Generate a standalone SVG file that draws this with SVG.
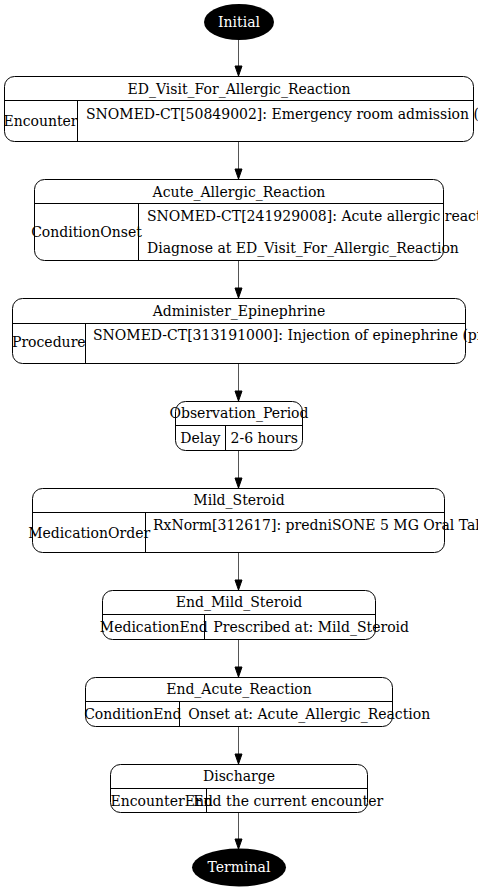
<svg xmlns="http://www.w3.org/2000/svg" width="478" height="890" viewBox="0 0 478 890">
<style>
text{font-family:"DejaVu Serif","Liberation Serif",serif;font-size:14px;fill:#000}
.c{text-anchor:middle}
.w{fill:#fff}
.box{fill:#fff;stroke:#000;stroke-width:1}
.ln{stroke:#000;stroke-width:1;fill:none}
.edge{stroke:#555;stroke-width:1;fill:none}
.ah{fill:#000;stroke:#000;stroke-width:1}
</style>
<rect width="478" height="890" fill="#fff"/>
<g id="connectors">
<line class="edge" x1="238.5" y1="40" x2="238.5" y2="66"/><polygon class="ah" points="235,66 242,66 238.5,76"/>
<line class="edge" x1="238.5" y1="142" x2="238.5" y2="169"/><polygon class="ah" points="235,169 242,169 238.5,179"/>
<line class="edge" x1="238.5" y1="261" x2="238.5" y2="288"/><polygon class="ah" points="235,288 242,288 238.5,298"/>
<line class="edge" x1="238.5" y1="364" x2="238.5" y2="391"/><polygon class="ah" points="235,391 242,391 238.5,401"/>
<line class="edge" x1="238.5" y1="451" x2="238.5" y2="478"/><polygon class="ah" points="235,478 242,478 238.5,488"/>
<line class="edge" x1="238.5" y1="553" x2="238.5" y2="580"/><polygon class="ah" points="235,580 242,580 238.5,590"/>
<line class="edge" x1="238.5" y1="640" x2="238.5" y2="667"/><polygon class="ah" points="235,667 242,667 238.5,677"/>
<line class="edge" x1="238.5" y1="727" x2="238.5" y2="754"/><polygon class="ah" points="235,754 242,754 238.5,764"/>
<line class="edge" x1="238.5" y1="813" x2="238.5" y2="839"/><polygon class="ah" points="235,839 242,839 238.5,849"/>
</g>
<g id="Initial">
<ellipse cx="239" cy="22" rx="35" ry="18" fill="#000"/>
<text class="c w" x="239" y="26.7">Initial</text>
</g>
<g id="ED_Visit_For_Allergic_Reaction">
<rect class="box" x="4.5" y="76.5" width="469" height="65" rx="10"/>
<line class="ln" x1="4.5" y1="100.5" x2="473.5" y2="100.5"/>
<line class="ln" x1="77.5" y1="100.5" x2="77.5" y2="141.5"/>
<text class="c" x="239" y="94">ED_Visit_For_Allergic_Reaction</text>
<text class="c" x="40.5" y="126">Encounter</text>
<text x="86" y="119">SNOMED-CT[50849002]: Emergency room admission (procedure)</text>
</g>
<g id="Acute_Allergic_Reaction">
<rect class="box" x="34.5" y="179.5" width="409" height="81" rx="10"/>
<line class="ln" x1="34.5" y1="203.5" x2="443.5" y2="203.5"/>
<line class="ln" x1="138.5" y1="203.5" x2="138.5" y2="260.5"/>
<text class="c" x="239" y="196.7">Acute_Allergic_Reaction</text>
<text class="c" x="86.5" y="236.7">ConditionOnset</text>
<text x="147" y="220.7">SNOMED-CT[241929008]: Acute allergic reaction (disorder)</text>
<text x="147" y="253.3">Diagnose at ED_Visit_For_Allergic_Reaction</text>
</g>
<g id="Administer_Epinephrine">
<rect class="box" x="12.5" y="298.5" width="453" height="65" rx="10"/>
<line class="ln" x1="12.5" y1="323.5" x2="465.5" y2="323.5"/>
<line class="ln" x1="85.5" y1="323.5" x2="85.5" y2="363.5"/>
<text class="c" x="239" y="315.7">Administer_Epinephrine</text>
<text class="c" x="48.8" y="347.3">Procedure</text>
<text x="93" y="340">SNOMED-CT[313191000]: Injection of epinephrine (procedure)</text>
</g>
<g id="Observation_Period">
<rect class="box" x="175.5" y="401.5" width="127" height="49" rx="10"/>
<line class="ln" x1="175.5" y1="425.5" x2="302.5" y2="425.5"/>
<line class="ln" x1="225.5" y1="425.5" x2="225.5" y2="450.5"/>
<text class="c" x="239" y="418.3">Observation_Period</text>
<text class="c" x="200.3" y="443">Delay</text>
<text class="c" x="264.2" y="443">2-6 hours</text>
</g>
<g id="Mild_Steroid">
<rect class="box" x="32.5" y="488.5" width="412" height="64" rx="10"/>
<line class="ln" x1="32.5" y1="512.5" x2="444.5" y2="512.5"/>
<line class="ln" x1="145.5" y1="512.5" x2="145.5" y2="552.5"/>
<text class="c" x="239" y="505">Mild_Steroid</text>
<text class="c" x="89.2" y="538">MedicationOrder</text>
<text x="153" y="530">RxNorm[312617]: predniSONE 5 MG Oral Tablet</text>
</g>
<g id="End_Mild_Steroid">
<rect class="box" x="102.5" y="590.5" width="273" height="49" rx="10"/>
<line class="ln" x1="102.5" y1="614.5" x2="375.5" y2="614.5"/>
<line class="ln" x1="204.5" y1="614.5" x2="204.5" y2="639.5"/>
<text class="c" x="239" y="607.3">End_Mild_Steroid</text>
<text class="c" x="153.8" y="632.3">MedicationEnd</text>
<text x="213.3" y="632.3">Prescribed at: Mild_Steroid</text>
</g>
<g id="End_Acute_Reaction">
<rect class="box" x="85.5" y="677.5" width="307" height="49" rx="10"/>
<line class="ln" x1="85.5" y1="701.5" x2="392.5" y2="701.5"/>
<line class="ln" x1="179.5" y1="701.5" x2="179.5" y2="726.5"/>
<text class="c" x="239" y="694">End_Acute_Reaction</text>
<text class="c" x="132.8" y="719">ConditionEnd</text>
<text x="188.3" y="719">Onset at: Acute_Allergic_Reaction</text>
</g>
<g id="Discharge">
<rect class="box" x="110.5" y="764.5" width="257" height="48" rx="10"/>
<line class="ln" x1="110.5" y1="788.5" x2="367.5" y2="788.5"/>
<line class="ln" x1="206.5" y1="788.5" x2="206.5" y2="812.5"/>
<text class="c" x="239" y="780.7">Discharge</text>
<text class="c" x="161.7" y="805.7">EncounterEnd</text>
<text class="c" x="288.3" y="805.7">End the current encounter</text>
</g>
<g id="Terminal">
<ellipse cx="239" cy="867.5" rx="47" ry="19" fill="#000"/>
<text class="c w" x="239" y="872.3">Terminal</text>
</g>
</svg>
